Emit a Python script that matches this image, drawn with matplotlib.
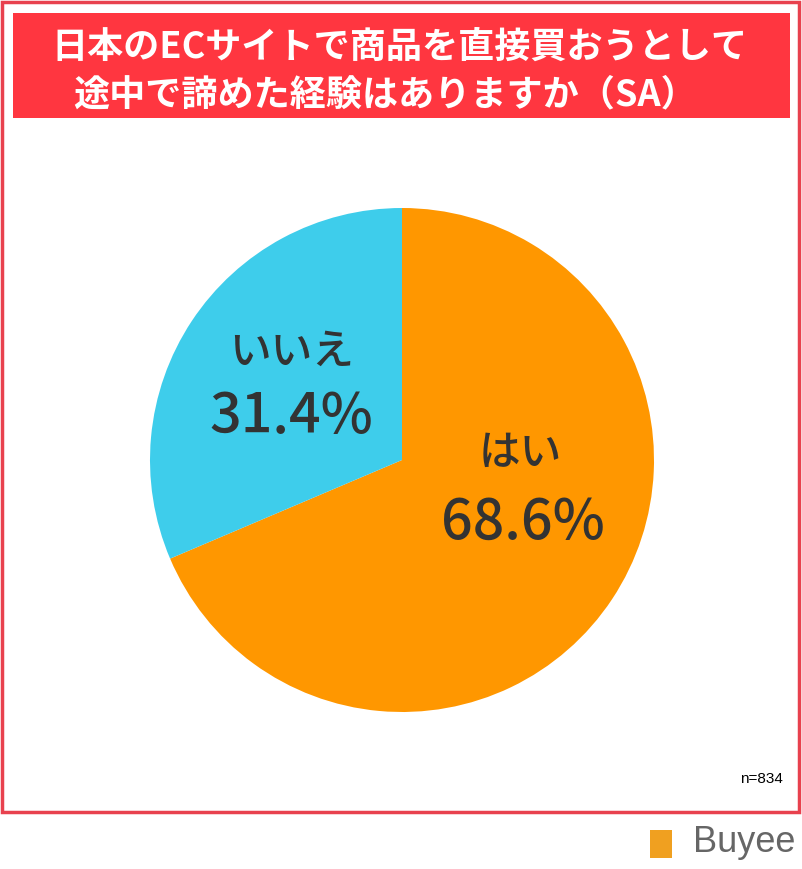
import matplotlib.pyplot as plt
from matplotlib.patches import Rectangle

plt.rcParams['font.family'] = ['Noto Sans CJK JP', 'DejaVu Sans']

labels = ['はい', 'いいえ']
values = [68.6, 31.4]
colors = ['#FF9700', '#3ECDEB']

W, H = 803, 869
fig = plt.figure(figsize=(W / 100, H / 100), dpi=100)

def fx(x):
    return x / W

def fy(y):
    return 1 - y / H

# outer border
fig.patches.append(Rectangle((fx(2), fy(812)), fx(797), 810 / H, transform=fig.transFigure,
                             fill=False, edgecolor='#E8414E', linewidth=2.5))
# title box
fig.patches.append(Rectangle((fx(13), fy(118)), fx(777), 105 / H, transform=fig.transFigure,
                             facecolor='#FF3640', edgecolor='none'))
fig.text(fx(400), fy(47), '日本のECサイトで商品を直接買おうとして', color='white',
         fontsize=26, fontweight='bold', ha='center', va='center')
fig.text(fx(385), fy(95), '途中で諦めた経験はありますか（SA）', color='white',
         fontsize=26, fontweight='bold', ha='center', va='center')

ax = fig.add_axes([fx(150), fy(712), fx(504), 504 / H])
ax.pie(values, colors=colors, startangle=90, counterclock=False,
       wedgeprops=dict(linewidth=0))
ax.set_xlim(-1, 1)
ax.set_ylim(-1, 1)
ax.set_aspect('equal')

ax.text(0.47, 0.03, labels[0], fontsize=30, fontweight='medium', ha='center', va='center', color='#333333')
ax.text(0.48, -0.25, f'{values[0]}%', fontsize=40, fontweight='medium', ha='center', va='center', color='#333333')
ax.text(-0.44, 0.43, labels[1], fontsize=30, fontweight='medium', ha='center', va='center', color='#333333')
ax.text(-0.44, 0.17, f'{values[1]}%', fontsize=40, fontweight='medium', ha='center', va='center', color='#333333')

fig.text(fx(783), fy(779), 'n=834', fontsize=11, ha='right', va='center', family='Liberation Sans')
fig.text(fx(795), fy(843), 'Buyee', fontsize=26, ha='right', va='center',
         color='#666666', family='Liberation Sans')
fig.patches.append(Rectangle((fx(650), fy(858)), fx(22), 28 / H, transform=fig.transFigure,
                             facecolor='#F0A020', edgecolor='none'))

fig.savefig('out.png', dpi=100)
